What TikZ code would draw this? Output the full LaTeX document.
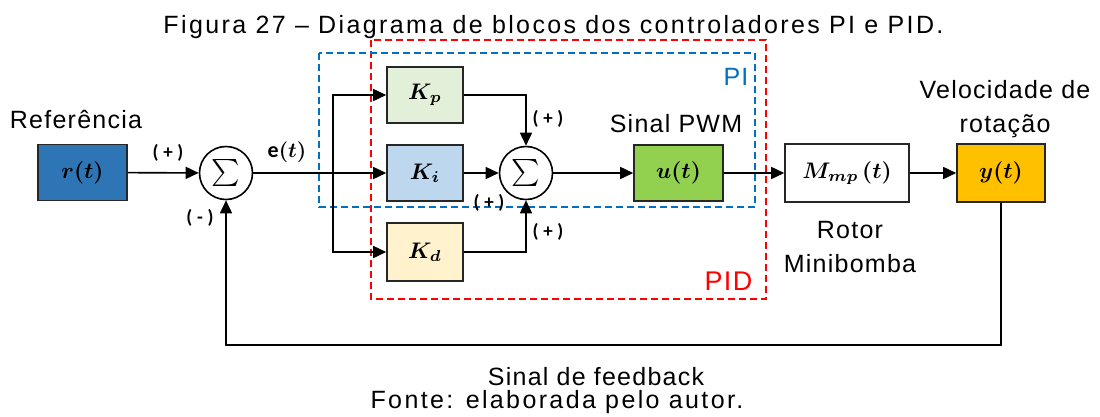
\RequirePackage{fix-cm}
\documentclass[tikz,border=0pt]{standalone}
\usepackage{fontspec}
\usepackage{bm}
\usetikzlibrary{arrows.meta}
\newfontfamily\labfont[LetterSpace=5]{Liberation Sans}
\newfontfamily\capfont[LetterSpace=9.5]{Liberation Sans}
\newfontfamily\pmfont[LetterSpace=25]{Carlito}
\definecolor{rblue}{HTML}{2E75B6}
\definecolor{kpg}{HTML}{E2F0D9}
\definecolor{kib}{HTML}{BDD7EE}
\definecolor{kdy}{HTML}{FFF2CC}
\definecolor{ugreen}{HTML}{92D050}
\definecolor{yor}{HTML}{FFC000}
\definecolor{piblue}{HTML}{0070C0}
\definecolor{pidred}{HTML}{FF0000}
\newcommand{\bigsum}{\scalebox{2.7}{$\sum$}}
\newcommand{\mth}[1]{\scalebox{2.25}{\fontsize{10}{12}\selectfont$\bm{#1}$}}
\tikzset{
  blk/.style={draw=black!85, line width=1.6pt, inner sep=0pt},
  sumc/.style={circle, draw=black, fill=white, line width=1.6pt, minimum size=53pt, inner sep=0pt},
  arr/.style={-{Triangle[length=13pt,width=12pt]}, line width=1.6pt},
  pibox/.style={draw=piblue, line width=1.8pt, dash pattern=on 7pt off 4pt},
  pidbox/.style={draw=pidred, line width=1.8pt, dash pattern=on 7pt off 4pt},
  lab/.style={anchor=base, inner sep=0pt, font=\labfont\fontsize{25}{30}\selectfont},
  captxt/.style={anchor=base, inner sep=0pt, font=\capfont\fontsize{25}{30}\selectfont},
  pm/.style={inner sep=0pt, font=\pmfont\bfseries\fontsize{19}{22}\selectfont}
}
\begin{document}
\begin{tikzpicture}[x=1pt,y=-1pt]
\useasboundingbox (0,0) rectangle (1100,416);
% dashed controller boxes
\draw[pidbox] (371,40) rectangle (766,299);
\draw[pibox] (319,53) rectangle (755,207);
% blocks
\node[blk, fill=rblue, minimum width=89pt, minimum height=56pt] (r) at (82.5,172.5) {\mth{r(t)}};
\node[sumc] (s1) at (226,173) {\bigsum};
\node[blk, fill=kpg, minimum width=76pt, minimum height=56pt] (Kp) at (425,95) {\mth{K_p}};
\node[blk, fill=kib, minimum width=76pt, minimum height=56pt] (Ki) at (425,173) {\mth{K_i}};
\node[blk, fill=kdy, minimum width=76pt, minimum height=58pt] (Kd) at (425,252) {\mth{K_d}};
\node[sumc] (s2) at (526,173) {\bigsum};
\node[blk, fill=ugreen, minimum width=89pt, minimum height=56pt] (u) at (678.5,173) {\mth{u(t)}};
\node[blk, fill=white, minimum width=124pt, minimum height=58pt] (M) at (847,173) {\mth{M_{mp}\,(t)}};
\node[blk, fill=yor, minimum width=88pt, minimum height=58pt] (y) at (1001,173) {\mth{y(t)}};
% connectors
\coordinate (j) at (333,173);
\coordinate (fb) at (1001,345);
\draw[arr] (r) -- (s1);
\draw[arr] (s1) -- (Ki);
\draw[arr] (j) |- (Kp);
\draw[arr] (j) |- (Kd);
\draw[arr] (Kp) -| (s2);
\draw[arr] (Kd) -| (s2);
\draw[arr] (Ki) -- (s2);
\draw[arr] (s2) -- (u);
\draw[arr] (u) -- (M);
\draw[arr] (M) -- (y);
\draw[arr] (y.south) -- (fb) -| (s1);
% sign labels
\node[pm] (p1) at (168,153) {(+)};
\node[pm] (m1) at (200,218) {(-)};
\node[inner sep=0pt] (e) at (287,152) {{\pmfont\bfseries\fontsize{22}{26}\selectfont e}\scalebox{2.1}{\fontsize{10}{12}\selectfont$\bm{(t)}$}};
\node[pm] (p2) at (548,119) {(+)};
\node[pm] (p3) at (489,203) {(+)};
\node[pm] (p4) at (548,232) {(+)};
% texts
\node[lab] (ref) at (76,128) {Referência};
\node[lab] (pwm) at (676,132) {Sinal PWM};
\node[lab, text=piblue] (pi) at (736,85) {PI};
\node[lab, text=pidred, font=\labfont\fontsize{27}{30}\selectfont] (pid) at (728.5,290) {PID};
\node[lab] (vel1) at (1005,98) {Velocidade de};
\node[lab] (vel2) at (1005,132) {rotação};
\node[lab] (rot1) at (850,238) {Rotor};
\node[lab] (rot2) at (850,272) {Minibomba};
\node[lab] (sfb) at (596,385) {Sinal de feedback};
\node[captxt] (cap) at (553.5,33) {Figura 27 – Diagrama de blocos dos controladores PI e PID.};
\node[captxt] (src) at (557,408) {Fonte: elaborada pelo autor.};
\end{tikzpicture}
\end{document}
